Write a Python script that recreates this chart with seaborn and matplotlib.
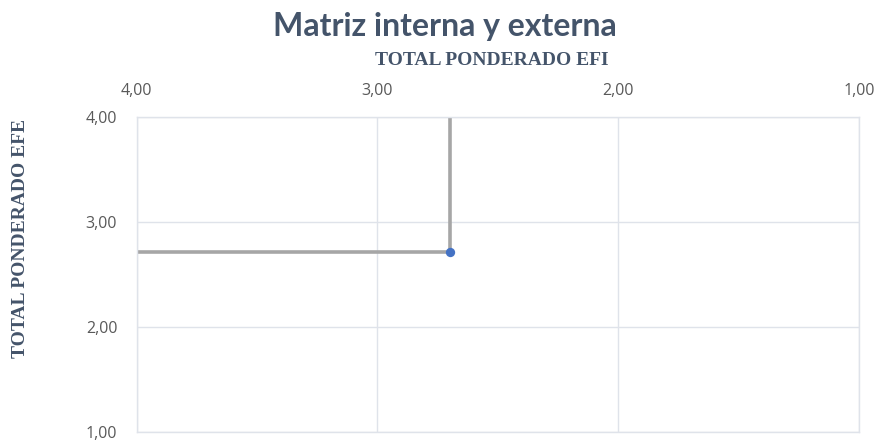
import matplotlib
matplotlib.use("Agg")
import numpy as np
import pandas as pd
import seaborn as sns
from matplotlib import pyplot as plt
from matplotlib.ticker import FuncFormatter

# datos de la matriz
efi_total = [2.70]
efe_total = [2.71]
axis_ticks = [1, 2, 3, 4]
axis_min, axis_max = 1, 4

df = pd.DataFrame({"EFI": efi_total, "EFE": efe_total})

sns.set_theme(style="white")
plt.rcParams['font.family'] = ['Open Sans', 'DejaVu Sans']

fig = plt.figure(figsize=(8.82, 4.41), dpi=100)
ax = fig.add_axes([0.155, 0.02, 0.819, 0.715])

grid_col = "#dfe3ea"
line_col = "#a6a6a6"

# lineas guia desde el punto hasta el borde (4,00)
for x, y in zip(efi_total, efe_total):
    ax.errorbar(x, y, xerr=[[0], [axis_max - x]], yerr=[[0], [axis_max - y]],
                fmt="none", ecolor=line_col, elinewidth=2.6, capsize=0, zorder=2)

sns.scatterplot(data=df, x="EFI", y="EFE", ax=ax, color="#4472c4", s=45,
                edgecolor="#4472c4", linewidth=0, zorder=3)

ax.set_xlim(axis_max, axis_min)
ax.set_ylim(axis_min, axis_max)
ax.set_xticks(axis_ticks)
ax.set_yticks(axis_ticks)
fmt = FuncFormatter(lambda v, p: f"{v:.2f}".replace(".", ","))
ax.xaxis.set_major_formatter(fmt)
ax.yaxis.set_major_formatter(fmt)
ax.xaxis.tick_top()
ax.tick_params(axis="both", length=0, labelsize=11.5, labelcolor="#595959")
ax.tick_params(axis="x", pad=13)
ax.tick_params(axis="y", pad=14)
ax.grid(True, color=grid_col, linewidth=1)
ax.set_axisbelow(True)
for s in ax.spines.values():
    s.set_color(grid_col)
    s.set_linewidth(1)

label_font = dict(family=['Liberation Serif', 'DejaVu Serif'], fontweight="bold",
                  fontsize=14, color="#44546a")
ax.set_xlabel("")
ax.set_ylabel("")
fig.text(0.0227, 0.46, "TOTAL PONDERADO EFE", rotation=90, ha="center", va="center", **label_font)
fig.text(0.5575, 0.862, "TOTAL PONDERADO EFI", ha="center", va="center", **label_font)

fig.text(0.504, 0.94, "Matriz interna y externa", ha="center", va="center",
         family=['Lato', 'DejaVu Sans'], fontweight="bold",
         fontsize=23, color="#44546a")

fig.savefig("out.png", dpi=100)
